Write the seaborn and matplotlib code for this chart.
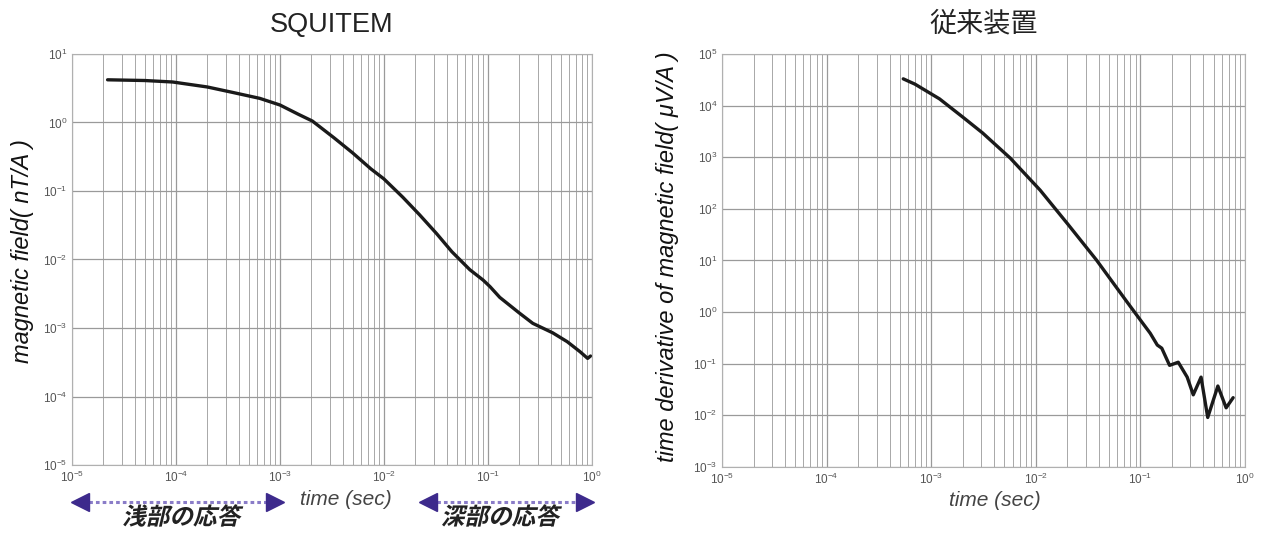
import matplotlib
matplotlib.use("Agg")
import matplotlib.pyplot as plt
import matplotlib.ticker as mticker
import matplotlib.patheffects as pe
from matplotlib.transforms import Affine2D
import numpy as np
import pandas as pd
import seaborn as sns

# ---- data ----
squitem_time = [2.2e-5, 5e-5, 9.3e-5, 2e-4, 3.5e-4, 6.4e-4, 1e-3, 1.5e-3, 2.05e-3,
                3.3e-3, 5e-3, 7.5e-3, 1e-2, 1.22e-2, 1.52e-2, 2.2e-2, 3.2e-2,
                4.5e-2, 6.7e-2, 0.09, 0.105, 0.13, 0.2, 0.27, 0.42, 0.58, 0.77,
                0.91, 0.97]
squitem_field = [4.2, 4.1, 3.9, 3.3, 2.75, 2.25, 1.8, 1.32, 1.05,
                 0.6, 0.36, 0.21, 0.15, 0.112, 0.081, 0.045, 0.024,
                 0.013, 0.0071, 0.0050, 0.0040, 0.0028, 0.00166, 0.00117, 0.00085,
                 0.00063, 0.00045, 0.00036, 0.00039]

conv_time = [5.4e-4, 7e-4, 1.2e-3, 2e-3, 3.1e-3, 5.7e-3, 1.1e-2, 2e-2, 3.8e-2,
             5.1e-2, 7.4e-2, 0.1, 0.124, 0.145, 0.16, 0.19, 0.23, 0.28, 0.32,
             0.38, 0.44, 0.55, 0.66, 0.77]
conv_dbdt = [3.3e4, 2.6e4, 1.35e4, 6000, 2950, 960, 230, 52, 10.2,
             4.5, 1.6, 0.70, 0.39, 0.23, 0.20, 0.093, 0.107, 0.055, 0.025,
             0.055, 0.0091, 0.037, 0.014, 0.022]

titles = ["SQUITEM", "従来装置"]
ylabels = ["magnetic field( nT/A )", "time derivative of magnetic field( μV/A )"]
xlabel = "time (sec)"
shallow_label = "浅部の応答"
deep_label = "深部の応答"


class Skew(pe.AbstractPathEffect):
    """Slant glyphs (for fonts that have no italic face)."""

    def __init__(self, deg=13):
        super().__init__()
        self.deg = deg

    def draw_path(self, renderer, gc, tpath, affine, rgbFace=None):
        ox, oy = affine.transform((0, 0))
        skew = Affine2D().translate(-ox, -oy).skew_deg(self.deg, 0).translate(ox, oy)
        renderer.draw_path(gc, tpath, affine + skew, rgbFace)


# ---- style ----
sns.set_style("white")
plt.rcParams["font.family"] = ["Liberation Sans", "Noto Sans CJK JP"]
plt.rcParams["mathtext.fontset"] = "custom"
plt.rcParams["mathtext.rm"] = "Liberation Sans"
plt.rcParams["mathtext.it"] = "Liberation Sans:italic"

fig = plt.figure(figsize=(12.65, 5.34), dpi=100)
ax1 = fig.add_axes([0.0569, 0.1292, 0.411, 0.7697])
ax2 = fig.add_axes([0.5708, 0.1255, 0.4134, 0.7734])

df1 = pd.DataFrame({"t": squitem_time, "v": squitem_field})
df2 = pd.DataFrame({"t": conv_time, "v": conv_dbdt})

sns.lineplot(data=df1, x="t", y="v", ax=ax1, color="#1a1a1a", lw=2.4, sort=False)
sns.lineplot(data=df2, x="t", y="v", ax=ax2, color="#1a1a1a", lw=2.4, sort=False)

grid_c = "#9a9a9a"
settings = [
    (ax1, (1e-5, 1e1), titles[0], 19.5, ylabels[0], 17, 6, 0.521),
    (ax2, (1e-3, 1e5), titles[1], 19.5, ylabels[1], 17, 10, 0.508),
]
for ax, ylim, title, tsize, yl, ylsize, lpad, ly in settings:
    ax.set_xscale("log")
    ax.set_yscale("log")
    ax.set_xlim(1e-5, 1e0)
    ax.set_ylim(*ylim)
    ax.xaxis.set_major_locator(mticker.LogLocator(base=10, numticks=10))
    ax.xaxis.set_minor_locator(mticker.LogLocator(base=10, subs=np.arange(2, 10), numticks=20))
    ax.yaxis.set_major_locator(mticker.LogLocator(base=10, numticks=12))
    ax.yaxis.set_minor_locator(mticker.LogLocator(base=10, subs=np.arange(2, 10), numticks=20))
    ax.yaxis.set_minor_formatter(mticker.NullFormatter())
    ax.xaxis.set_minor_formatter(mticker.NullFormatter())
    ax.grid(True, which="major", axis="both", color=grid_c, lw=0.9)
    ax.grid(True, which="minor", axis="x", color="#a8a8a8", lw=0.7)
    ax.set_axisbelow(True)
    for s in ax.spines.values():
        s.set_color("#b0b0b0")
        s.set_linewidth(0.8)
    ax.tick_params(which="both", direction="in", color="#a0a0a0", labelcolor="#555555",
                   labelsize=8.5)
    ax.tick_params(which="major", length=4)
    ax.tick_params(which="minor", length=2)
    ax.set_title(title, fontsize=tsize, color="#222222", pad=16)
    ax.set_ylabel(yl, fontsize=ylsize, style="italic", color="#111111", labelpad=lpad)
    ax.yaxis.label.set_y(ly)
    ax.set_xlabel("")

# x labels
ax1.text(0.527, -0.085, xlabel, transform=ax1.transAxes, ha="center", va="center",
         fontsize=15, style="italic", color="#444444")
ax2.text(0.522, -0.082, xlabel, transform=ax2.transAxes, ha="center", va="center",
         fontsize=15, style="italic", color="#444444")

# arrows under the left chart
arrow_c = "#3d2a8c"
arrow_y = -0.089
text_y = -0.129
for (x0, x1, tx, lab) in [(0.0, 0.406, 0.21, shallow_label),
                          (0.669, 1.002, 0.823, deep_label)]:
    ax1.plot([x0 + 0.02, x1 - 0.02], [arrow_y, arrow_y], transform=ax1.transAxes,
             color="#8a7cc8", ls=(0, (1.2, 1.0)), lw=2.2, clip_on=False)
    ax1.plot([x0 + 0.016], [arrow_y], transform=ax1.transAxes, marker="<", ms=13,
             color=arrow_c, clip_on=False, mec=arrow_c)
    ax1.plot([x1 - 0.016], [arrow_y], transform=ax1.transAxes, marker=">", ms=13,
             color=arrow_c, clip_on=False, mec=arrow_c)
    ax1.text(tx, text_y, lab, transform=ax1.transAxes, ha="center",
             va="center", fontsize=17, fontweight="bold", color="#222222",
             path_effects=[Skew(13)])

fig.savefig("out.png", dpi=100)
